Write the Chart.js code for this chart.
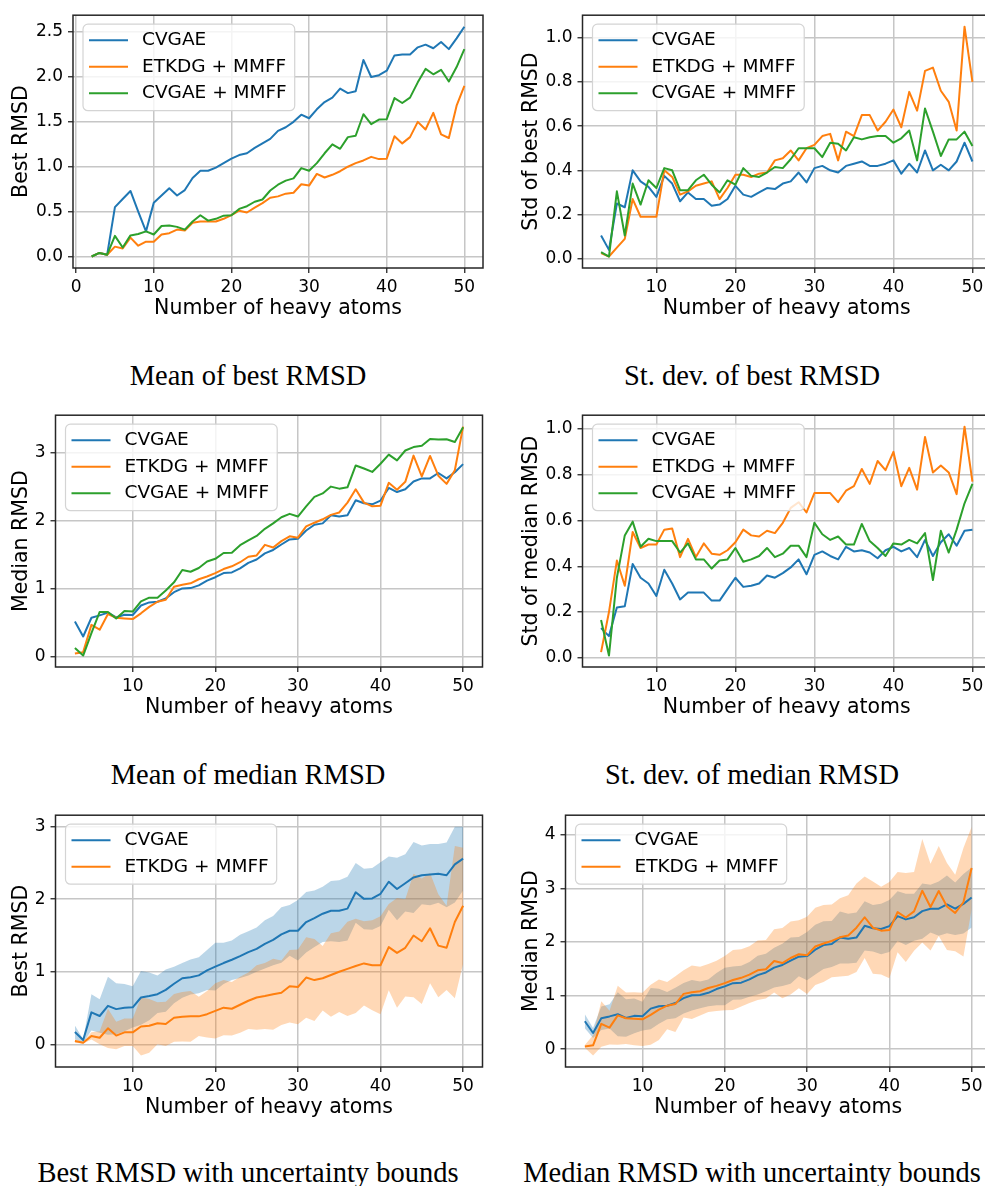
<!DOCTYPE html>
<html>
<head>
<meta charset="utf-8">
<script src="https://cdn.jsdelivr.net/npm/chart.js@4.4.0/dist/chart.umd.min.js"></script>
<style>
  html, body { margin: 0; padding: 0; background: #fff; overflow: hidden; width: 985px; height: 1186px; }
  canvas { position: absolute; }
  .cap { position: absolute; width: 480px; text-align: center; font-family: "Liberation Serif", "Times New Roman", serif;
         font-size: 28.5px; line-height: 1; white-space: nowrap; color: #000; }
</style>
</head>
<body>
<div class="cap" style="left:8px;top:362px">Mean of best RMSD</div>
<div class="cap" style="left:512px;top:362px">St. dev. of best RMSD</div>
<div class="cap" style="left:8px;top:761px">Mean of median RMSD</div>
<div class="cap" style="left:512px;top:761px">St. dev. of median RMSD</div>
<div class="cap" style="left:8px;top:1159px">Best RMSD with uncertainty bounds</div>
<div class="cap" style="left:512px;top:1159px">Median RMSD with uncertainty bounds</div>
<script>
// x values: number of heavy atoms
const atomsFrom2 = [2,3,4,5,6,7,8,9,10,11,12,13,14,15,16,17,18,19,20,21,22,23,24,25,26,27,28,29,30,31,32,33,34,35,36,37,38,39,40,41,42,43,44,45,46,47,48,49,50];
const atomsFrom3 = [3,4,5,6,7,8,9,10,11,12,13,14,15,16,17,18,19,20,21,22,23,24,25,26,27,28,29,30,31,32,33,34,35,36,37,38,39,40,41,42,43,44,45,46,47,48,49,50];

// Mean of best RMSD (x from 2)
const meanBestCvgae = [0.00,0.04,0.02,0.55,0.64,0.73,0.50,0.28,0.60,0.68,0.76,0.68,0.74,0.875,0.955,0.955,0.99,1.04,1.09,1.13,1.15,1.21,1.26,1.31,1.40,1.44,1.50,1.58,1.54,1.64,1.72,1.77,1.87,1.82,1.84,2.19,2.00,2.02,2.07,2.24,2.25,2.25,2.33,2.36,2.32,2.39,2.31,2.43,2.56];
const meanBestEtkdg = [0.00,0.04,0.02,0.11,0.09,0.21,0.12,0.165,0.165,0.245,0.26,0.30,0.29,0.375,0.39,0.39,0.39,0.42,0.46,0.51,0.49,0.545,0.595,0.655,0.67,0.70,0.71,0.805,0.79,0.92,0.88,0.91,0.95,1.00,1.04,1.07,1.11,1.085,1.09,1.34,1.26,1.33,1.50,1.415,1.60,1.36,1.32,1.68,1.90];
const meanBestCvgaeMmff = [0.00,0.04,0.02,0.23,0.10,0.235,0.25,0.28,0.245,0.34,0.345,0.33,0.30,0.39,0.46,0.40,0.42,0.455,0.46,0.53,0.56,0.61,0.635,0.735,0.80,0.845,0.87,0.985,0.955,1.04,1.15,1.25,1.20,1.33,1.345,1.585,1.475,1.525,1.53,1.765,1.71,1.77,1.94,2.09,2.03,2.08,1.95,2.11,2.31];

// Std of best RMSD (x from 3)
const stdBestCvgae = [0.105,0.04,0.25,0.233,0.40,0.35,0.325,0.28,0.375,0.34,0.26,0.30,0.27,0.27,0.24,0.245,0.27,0.33,0.29,0.28,0.30,0.32,0.315,0.34,0.35,0.39,0.345,0.41,0.42,0.40,0.39,0.42,0.43,0.44,0.42,0.42,0.43,0.445,0.385,0.43,0.39,0.49,0.40,0.425,0.40,0.44,0.525,0.44];
const stdBestEtkdg = [0.025,0.01,0.05,0.09,0.27,0.19,0.19,0.19,0.40,0.37,0.29,0.305,0.33,0.34,0.35,0.27,0.32,0.38,0.38,0.37,0.385,0.39,0.445,0.455,0.49,0.445,0.50,0.515,0.555,0.565,0.445,0.575,0.555,0.65,0.65,0.58,0.62,0.675,0.595,0.755,0.67,0.85,0.865,0.76,0.71,0.58,1.05,0.80];
const stdBestCvgaeMmff = [0.03,0.01,0.305,0.105,0.34,0.245,0.355,0.32,0.41,0.40,0.31,0.31,0.355,0.38,0.335,0.30,0.355,0.335,0.41,0.375,0.37,0.39,0.415,0.41,0.45,0.50,0.50,0.50,0.46,0.525,0.52,0.49,0.55,0.54,0.55,0.555,0.555,0.525,0.545,0.58,0.445,0.68,0.575,0.465,0.54,0.54,0.575,0.51];

// Mean of median RMSD (x from 3)
const meanMedCvgae = [0.52,0.30,0.575,0.61,0.65,0.58,0.62,0.615,0.755,0.80,0.81,0.86,0.95,1.005,1.01,1.05,1.12,1.17,1.23,1.24,1.30,1.38,1.43,1.52,1.57,1.65,1.725,1.735,1.855,1.94,1.96,2.08,2.06,2.08,2.30,2.255,2.24,2.295,2.48,2.42,2.46,2.575,2.62,2.62,2.70,2.62,2.71,2.83];
const meanMedEtkdg = [0.05,0.07,0.47,0.40,0.63,0.575,0.565,0.555,0.64,0.735,0.81,0.84,1.03,1.06,1.08,1.14,1.18,1.23,1.29,1.33,1.39,1.47,1.49,1.645,1.605,1.70,1.77,1.75,1.915,1.97,2.02,2.085,2.12,2.265,2.46,2.265,2.21,2.22,2.555,2.455,2.57,2.955,2.65,2.95,2.66,2.54,2.74,3.38];
const meanMedCvgaeMmff = [0.13,0.02,0.35,0.66,0.66,0.565,0.675,0.665,0.815,0.87,0.87,0.975,1.095,1.275,1.25,1.305,1.40,1.44,1.525,1.53,1.64,1.71,1.775,1.88,1.96,2.05,2.10,2.06,2.21,2.35,2.40,2.50,2.47,2.49,2.81,2.765,2.715,2.835,2.97,2.885,3.03,3.08,3.10,3.20,3.19,3.195,3.155,3.37];

// Std of median RMSD (x from 3)
const stdMedCvgae = [0.13,0.095,0.22,0.225,0.41,0.35,0.325,0.27,0.385,0.325,0.255,0.285,0.285,0.285,0.25,0.25,0.30,0.35,0.31,0.315,0.325,0.36,0.35,0.37,0.395,0.43,0.365,0.45,0.465,0.445,0.43,0.485,0.465,0.47,0.46,0.435,0.47,0.485,0.465,0.48,0.44,0.515,0.445,0.505,0.54,0.49,0.555,0.56];
const stdMedEtkdg = [0.025,0.20,0.425,0.315,0.55,0.48,0.495,0.495,0.56,0.565,0.44,0.52,0.44,0.50,0.455,0.45,0.47,0.505,0.56,0.535,0.53,0.555,0.545,0.59,0.655,0.68,0.635,0.72,0.72,0.72,0.68,0.73,0.75,0.825,0.76,0.86,0.82,0.90,0.75,0.83,0.735,0.965,0.81,0.84,0.81,0.715,1.01,0.77];
const stdMedCvgaeMmff = [0.165,0.01,0.35,0.535,0.595,0.485,0.52,0.51,0.51,0.51,0.46,0.50,0.43,0.43,0.39,0.425,0.43,0.48,0.42,0.43,0.445,0.48,0.44,0.455,0.49,0.49,0.44,0.59,0.54,0.515,0.53,0.495,0.495,0.585,0.51,0.48,0.445,0.50,0.495,0.515,0.50,0.545,0.34,0.555,0.46,0.56,0.675,0.76];

// Best RMSD with uncertainty bounds (x from 3)
const bestCvgae = [0.17,0.06,0.44,0.39,0.53,0.485,0.505,0.51,0.645,0.665,0.69,0.75,0.835,0.91,0.925,0.95,1.02,1.07,1.12,1.165,1.215,1.27,1.315,1.385,1.44,1.515,1.565,1.565,1.685,1.74,1.80,1.84,1.84,1.87,2.095,2.005,2.01,2.075,2.24,2.14,2.22,2.30,2.33,2.34,2.35,2.33,2.48,2.56];
const bestCvgaeUpper = [0.26,0.07,0.69,0.62,0.93,0.84,0.83,0.80,1.01,0.99,0.95,1.03,1.07,1.12,1.17,1.20,1.30,1.40,1.40,1.43,1.51,1.56,1.61,1.71,1.77,1.89,1.92,1.99,2.10,2.12,2.17,2.25,2.26,2.31,2.50,2.42,2.43,2.51,2.59,2.57,2.62,2.79,2.74,2.76,2.76,2.78,3.00,3.00];
const bestCvgaeLower = [0.07,0.02,0.19,0.16,0.13,0.14,0.18,0.23,0.27,0.33,0.43,0.45,0.565,0.64,0.685,0.705,0.75,0.74,0.83,0.885,0.915,0.95,1.00,1.045,1.09,1.125,1.22,1.155,1.265,1.34,1.41,1.42,1.41,1.43,1.675,1.585,1.58,1.63,1.855,1.71,1.83,1.81,1.93,1.915,1.95,1.89,1.955,2.12];
const bestEtkdg = [0.045,0.02,0.115,0.09,0.22,0.12,0.165,0.165,0.245,0.255,0.29,0.28,0.365,0.38,0.385,0.385,0.415,0.46,0.505,0.49,0.545,0.60,0.645,0.665,0.69,0.71,0.80,0.79,0.92,0.885,0.91,0.955,1.00,1.04,1.08,1.115,1.09,1.09,1.34,1.26,1.33,1.50,1.42,1.60,1.36,1.33,1.685,1.91];
const bestEtkdgUpper = [0.07,0.03,0.165,0.18,0.49,0.31,0.355,0.355,0.645,0.625,0.58,0.585,0.695,0.72,0.735,0.655,0.735,0.84,0.885,0.86,0.93,0.99,1.09,1.12,1.18,1.155,1.30,1.305,1.475,1.45,1.355,1.53,1.555,1.69,1.73,1.695,1.71,1.765,1.935,2.015,2.00,2.35,2.285,2.36,2.07,1.91,2.735,2.71];
const bestEtkdgLower = [0.02,0.01,0.065,0.00,-0.05,-0.07,-0.025,-0.025,-0.155,-0.115,0.00,-0.025,0.035,0.04,0.035,0.115,0.095,0.08,0.125,0.12,0.16,0.21,0.20,0.21,0.20,0.265,0.30,0.275,0.365,0.32,0.465,0.38,0.445,0.39,0.43,0.535,0.47,0.415,0.745,0.505,0.66,0.65,0.555,0.84,0.65,0.75,0.635,1.11];

// Median RMSD with uncertainty bounds (x from 3); lines are the median means above
const medCvgaeUpper = [0.65,0.395,0.795,0.835,1.06,0.93,0.945,0.885,1.14,1.125,1.065,1.145,1.235,1.29,1.26,1.30,1.42,1.52,1.54,1.555,1.625,1.74,1.78,1.89,1.965,2.08,2.09,2.185,2.32,2.385,2.39,2.565,2.525,2.55,2.76,2.69,2.71,2.78,2.945,2.90,2.90,3.09,3.065,3.125,3.24,3.11,3.265,3.39];
const medCvgaeLower = [0.39,0.205,0.355,0.385,0.24,0.23,0.295,0.345,0.37,0.475,0.555,0.575,0.665,0.72,0.76,0.80,0.82,0.82,0.92,0.925,0.975,1.02,1.08,1.15,1.175,1.22,1.36,1.285,1.39,1.495,1.53,1.595,1.595,1.61,1.84,1.82,1.77,1.81,2.015,1.94,2.02,2.06,2.175,2.115,2.16,2.13,2.155,2.27];
const medEtkdgUpper = [0.075,0.26,0.895,0.715,1.18,1.055,1.06,1.05,1.20,1.30,1.25,1.36,1.47,1.56,1.535,1.59,1.65,1.735,1.85,1.865,1.92,2.025,2.035,2.235,2.26,2.38,2.405,2.47,2.635,2.69,2.70,2.815,2.87,3.09,3.22,3.125,3.03,3.12,3.305,3.285,3.305,3.92,3.46,3.79,3.47,3.255,3.75,4.15];
const medEtkdgLower = [0.025,-0.12,0.045,0.085,0.08,0.095,0.07,0.06,0.08,0.17,0.37,0.32,0.59,0.56,0.625,0.69,0.71,0.725,0.73,0.795,0.86,0.915,0.945,1.055,0.95,1.02,1.135,1.03,1.195,1.25,1.34,1.355,1.37,1.44,1.70,1.405,1.39,1.32,1.805,1.625,1.835,1.99,1.84,2.11,1.85,1.825,1.73,2.61];

// tick labels
const xTicksWithZero = [0, 10, 20, 30, 40, 50];
const xTicks = [10, 20, 30, 40, 50];
const yTicksBest = [0, 0.5, 1.0, 1.5, 2.0, 2.5];
const yTicksStd = [0, 0.2, 0.4, 0.6, 0.8, 1.0];
const yTicksMed = [0, 1, 2, 3];
const yTicksBand5 = [0, 1, 2, 3];
const yTicksBand6 = [0, 1, 2, 3, 4];

const BLUE = '#1f77b4', ORANGE = '#ff7f0e', GREEN = '#2ca02c';
const FONT = '"DejaVu Sans", sans-serif';

function pts(xs, ys) { return xs.map((x, i) => ({ x: x, y: ys[i] })); }

// order: higher numbers are drawn first (underneath), like matplotlib's plotting order
function line(label, xs, ys, color, order) {
  return { label: label, data: pts(xs, ys), borderColor: color, backgroundColor: color, borderWidth: 2,
           pointRadius: 0, fill: false, tension: 0, borderJoinStyle: 'round', borderCapStyle: 'butt', order: order };
}
function band(xs, ys, fillColor, fillTarget, order) {
  return { label: '', data: pts(xs, ys), borderColor: 'rgba(0,0,0,0)', backgroundColor: fillColor, borderWidth: 0,
           pointRadius: 0, fill: fillTarget, tension: 0, order: order };
}

// matplotlib-like box around the plot
const spines = {
  id: 'spines',
  afterDatasetsDraw(chart) {
    const a = chart.chartArea, ctx = chart.ctx;
    ctx.save();
    ctx.strokeStyle = '#262626';
    ctx.lineWidth = 1.5;
    ctx.strokeRect(a.left, a.top, a.right - a.left, a.bottom - a.top);
    ctx.restore();
  }
};

// legend box in the upper left of the axes
const boxLegend = {
  id: 'boxLegend',
  afterDatasetsDraw(chart) {
    const items = chart.data.datasets.filter(d => d.label);
    const ctx = chart.ctx, a = chart.chartArea;
    ctx.save();
    ctx.font = '18.5px ' + FONT;
    const tw = Math.max(...items.map(d => ctx.measureText(d.label).width));
    const x = a.left + 10, y = a.top + 9, w = 59 + tw + 8, h = items.length * 26.5 + 7;
    ctx.beginPath();
    ctx.roundRect(x, y, w, h, 5);
    ctx.fillStyle = 'rgba(255,255,255,0.8)';
    ctx.fill();
    ctx.strokeStyle = '#d4d4d4';
    ctx.lineWidth = 1.2;
    ctx.stroke();
    items.forEach((d, i) => {
      const cy = y + 16 + i * 26.5;
      ctx.strokeStyle = d.borderColor;
      ctx.lineWidth = 2;
      ctx.beginPath();
      ctx.moveTo(x + 6, cy);
      ctx.lineTo(x + 45, cy);
      ctx.stroke();
      ctx.fillStyle = '#000';
      ctx.textBaseline = 'middle';
      ctx.fillText(d.label, x + 59, cy);
    });
    ctx.restore();
  }
};

function makePanel(p) {
  const W = Math.round(p.box[2] + 10 - p.left), H = Math.round(p.box[3] + 60 - p.top);
  const cv = document.createElement('canvas');
  cv.width = W; cv.height = H;
  cv.style.left = p.left + 'px'; cv.style.top = p.top + 'px';
  cv.style.width = W + 'px'; cv.style.height = H + 'px';
  document.body.appendChild(cv);

  const gridOpts = { color: '#c6c6c6', lineWidth: 1.5, drawTicks: true, tickLength: 5, tickColor: '#262626', tickWidth: 1.3 };
  new Chart(cv, {
    type: 'line',
    data: { datasets: p.datasets },
    options: {
      responsive: false,
      animation: false,
      devicePixelRatio: 1,
      layout: { padding: { top: p.box[1] - p.top, right: W - (p.box[2] - p.left), left: 0, bottom: 0 } },
      plugins: { legend: { display: false }, tooltip: { enabled: false } },
      scales: {
        x: {
          type: 'linear', min: p.xMin, max: p.xMax,
          afterFit: s => { s.height = 60; },
          afterBuildTicks: s => { s.ticks = p.xTicks.map(v => ({ value: v })); },
          grid: gridOpts,
          border: { display: false },
          ticks: { autoSkip: false, maxRotation: 0, padding: 4, color: '#000', font: { family: FONT, size: 17 },
                   callback: v => String(v) },
          title: { display: true, text: 'Number of heavy atoms', color: '#000', font: { family: FONT, size: 20.5 },
                   padding: { top: 0, bottom: 7 } }
        },
        y: {
          type: 'linear', min: p.yMin, max: p.yMax,
          afterFit: s => { s.width = p.box[0] - p.left; },
          afterBuildTicks: s => { s.ticks = p.yTicks.map(v => ({ value: v })); },
          grid: gridOpts,
          border: { display: false },
          ticks: { autoSkip: false, padding: 5, color: '#000', font: { family: FONT, size: 17 },
                   callback: v => p.fmt(v) },
          title: { display: true, text: p.yTitle, color: '#000', font: { family: FONT, size: 20.5 },
                   padding: { top: 9.5, bottom: 0 } }
        }
      }
    },
    plugins: [spines, boxLegend]
  });
}

const one = v => v.toFixed(1);
const whole = v => v.toFixed(0);

makePanel({
  left: 0, top: 0, box: [73, 14, 483, 268], xMin: -0.4, xMax: 52.4, xTicks: xTicksWithZero,
  yMin: -0.128, yMax: 2.688, yTicks: yTicksBest, fmt: one, yTitle: 'Best RMSD',
  datasets: [
    line('CVGAE', atomsFrom2, meanBestCvgae, BLUE, 3),
    line('ETKDG + MMFF', atomsFrom2, meanBestEtkdg, ORANGE, 2),
    line('CVGAE + MMFF', atomsFrom2, meanBestCvgaeMmff, GREEN, 1)
  ]
});

makePanel({
  left: 510, top: 0, box: [582.5, 14, 991, 268], xMin: 0.65, xMax: 52.35, xTicks: xTicks,
  yMin: -0.042, yMax: 1.102, yTicks: yTicksStd, fmt: one, yTitle: 'Std of best RMSD',
  datasets: [
    line('CVGAE', atomsFrom3, stdBestCvgae, BLUE, 3),
    line('ETKDG + MMFF', atomsFrom3, stdBestEtkdg, ORANGE, 2),
    line('CVGAE + MMFF', atomsFrom3, stdBestCvgaeMmff, GREEN, 1)
  ]
});

makePanel({
  left: 0, top: 400, box: [55.5, 414, 482.5, 667], xMin: 0.65, xMax: 52.35, xTicks: xTicks,
  yMin: -0.148, yMax: 3.548, yTicks: yTicksMed, fmt: whole, yTitle: 'Median RMSD',
  datasets: [
    line('CVGAE', atomsFrom3, meanMedCvgae, BLUE, 3),
    line('ETKDG + MMFF', atomsFrom3, meanMedEtkdg, ORANGE, 2),
    line('CVGAE + MMFF', atomsFrom3, meanMedCvgaeMmff, GREEN, 1)
  ]
});

makePanel({
  left: 510, top: 400, box: [582.5, 414, 991, 667], xMin: 0.65, xMax: 52.35, xTicks: xTicks,
  yMin: -0.04, yMax: 1.06, yTicks: yTicksStd, fmt: one, yTitle: 'Std of median RMSD',
  datasets: [
    line('CVGAE', atomsFrom3, stdMedCvgae, BLUE, 3),
    line('ETKDG + MMFF', atomsFrom3, stdMedEtkdg, ORANGE, 2),
    line('CVGAE + MMFF', atomsFrom3, stdMedCvgaeMmff, GREEN, 1)
  ]
});

makePanel({
  left: 0, top: 800, box: [55.5, 813.5, 482.5, 1067], xMin: 0.65, xMax: 52.35, xTicks: xTicks,
  yMin: -0.313, yMax: 3.158, yTicks: yTicksBand5, fmt: whole, yTitle: 'Best RMSD',
  datasets: [
    line('CVGAE', atomsFrom3, bestCvgae, BLUE, 2),
    line('ETKDG + MMFF', atomsFrom3, bestEtkdg, ORANGE, 1),
    band(atomsFrom3, bestCvgaeUpper, 'rgba(31,119,180,0.3)', '+1', 6),
    band(atomsFrom3, bestCvgaeLower, 'rgba(31,119,180,0.3)', false, 6),
    band(atomsFrom3, bestEtkdgUpper, 'rgba(255,127,14,0.3)', '+1', 5),
    band(atomsFrom3, bestEtkdgLower, 'rgba(255,127,14,0.3)', false, 5)
  ]
});

makePanel({
  left: 510, top: 800, box: [565.5, 813.5, 991, 1067], xMin: 0.65, xMax: 52.35, xTicks: xTicks,
  yMin: -0.334, yMax: 4.364, yTicks: yTicksBand6, fmt: whole, yTitle: 'Median RMSD',
  datasets: [
    line('CVGAE', atomsFrom3, meanMedCvgae, BLUE, 2),
    line('ETKDG + MMFF', atomsFrom3, meanMedEtkdg, ORANGE, 1),
    band(atomsFrom3, medCvgaeUpper, 'rgba(31,119,180,0.3)', '+1', 6),
    band(atomsFrom3, medCvgaeLower, 'rgba(31,119,180,0.3)', false, 6),
    band(atomsFrom3, medEtkdgUpper, 'rgba(255,127,14,0.3)', '+1', 5),
    band(atomsFrom3, medEtkdgLower, 'rgba(255,127,14,0.3)', false, 5)
  ]
});
</script>
</body>
</html>
